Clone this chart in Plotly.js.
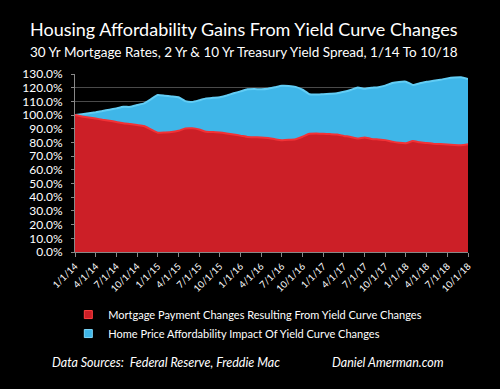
<!DOCTYPE html>
<html>
<head>
<meta charset="utf-8">
<script src="https://cdn.plot.ly/plotly-3.0.1.min.js"></script>
<style>
html,body{margin:0;padding:0;background:#000;}
#chart{width:500px;height:389px;}
</style>
</head>
<body>
<div id="chart"></div>
<script>
// Monthly observations, 1/1/14 .. 10/1/18
var months = [
  "1/1/14","2/1/14","3/1/14","4/1/14","5/1/14","6/1/14","7/1/14","8/1/14","9/1/14","10/1/14","11/1/14","12/1/14",
  "1/1/15","2/1/15","3/1/15","4/1/15","5/1/15","6/1/15","7/1/15","8/1/15","9/1/15","10/1/15","11/1/15","12/1/15",
  "1/1/16","2/1/16","3/1/16","4/1/16","5/1/16","6/1/16","7/1/16","8/1/16","9/1/16","10/1/16","11/1/16","12/1/16",
  "1/1/17","2/1/17","3/1/17","4/1/17","5/1/17","6/1/17","7/1/17","8/1/17","9/1/17","10/1/17","11/1/17","12/1/17",
  "1/1/18","2/1/18","3/1/18","4/1/18","5/1/18","6/1/18","7/1/18","8/1/18","9/1/18","10/1/18"
];
var mortgagePayment = [
  100,99,98.2,97.5,96.6,95.9,95,94,93.4,92.7,92,89.5,
  87.1,87.3,87.6,88.5,90.2,90.3,89.5,87.8,87.6,87.3,86.6,85.8,
  85,84,83.8,83.7,83.2,82.4,81.7,81.9,82.4,84.2,86.3,86.6,
  86.3,86.1,85.8,84.8,84,82.9,83.7,82.6,82.2,81.7,80.6,79.8,
  79.5,81,80.1,79.6,79.1,78.8,78.5,78.2,78,78.7
];
var homePrice = [
  100,100.7,101.3,102,103,103.9,104.9,106,106,107.3,108.5,111.5,
  114.6,114.1,113.6,113,110.2,109.6,110.8,112.2,112.6,113,114.3,115.9,
  117.3,118.8,119,118.8,119.2,120.3,121.4,121.3,120.6,118.5,115.2,115,
  115.3,115.6,115.9,117,118.3,120.2,119.2,119.9,120.4,121.5,123.4,124.2,
  124.4,122,123.2,124.3,125,125.8,126.8,127.4,127.6,126.3
];
var tickLabels = ["1/1/14","4/1/14","7/1/14","10/1/14","1/1/15","4/1/15","7/1/15","10/1/15",
  "1/1/16","4/1/16","7/1/16","10/1/16","1/1/17","4/1/17","7/1/17","10/1/17",
  "1/1/18","4/1/18","7/1/18","10/1/18"];
var yTicks = [0,10,20,30,40,50,60,70,80,90,100,110,120,130];

var seriesNames = ["Mortgage Payment Changes Resulting From Yield Curve Changes",
                   "Home Price Affordability Impact Of Yield Curve Changes"];
var redFill = "#cc1f27", blueFill = "#3fb6e8";

var traces = [
  {
    x: months, y: homePrice, type: "scatter", mode: "lines",
    fill: "tozeroy", fillcolor: blueFill,
    line: {color: "#62cdf5", width: 2, shape: "spline", smoothing: 0.4},
    name: seriesNames[1], showlegend: false
  },
  {
    x: months, y: mortgagePayment, type: "scatter", mode: "lines",
    fill: "tozeroy", fillcolor: redFill,
    line: {color: "#f23236", width: 2, shape: "spline", smoothing: 0.4},
    name: seriesNames[0], showlegend: false
  },
  // legend entries (square keys, no data drawn)
  {x: [null], y: [null], type: "scatter", mode: "markers", name: seriesNames[0],
   marker: {symbol: "square", size: 8, color: redFill, line: {color: "#ff4040", width: 1}}, legendrank: 1},
  {x: [null], y: [null], type: "scatter", mode: "markers", name: seriesNames[1],
   marker: {symbol: "square", size: 8, color: blueFill, line: {color: "#7fd8fa", width: 1}}, legendrank: 2}
];

var layout = {
  width: 500, height: 389,
  paper_bgcolor: "#000", plot_bgcolor: "#000",
  margin: {l: 75, r: 32, t: 74, b: 137},
  font: {family: "Lato, 'Open Sans', sans-serif", color: "#ffffff"},
  showlegend: true,
  legend: {
    x: -0.017, y: -0.27, xanchor: "left", yanchor: "top",
    orientation: "v", bgcolor: "rgba(0,0,0,0)",
    font: {size: 11, color: "#fff", family: "Lato, sans-serif"},
    tracegroupgap: 4, itemwidth: 30
  },
  xaxis: {
    type: "category",
    range: [0, months.length - 1],
    tickvals: tickLabels, ticktext: tickLabels,
    tickangle: -45,
    tickfont: {size: 9.5, color: "#fff", family: "Lato, sans-serif"},
    ticks: "outside", ticklen: 4, tickcolor: "#888",
    showline: true, linecolor: "#888", linewidth: 1,
    showgrid: false, zeroline: false, fixedrange: true
  },
  yaxis: {
    range: [0, 130],
    tickvals: yTicks,
    ticktext: yTicks.map(function(v){return v.toFixed(1) + "%";}),
    tickfont: {size: 12, color: "#fff", family: "Lato, sans-serif"},
    ticklabelstandoff: 6,
    showgrid: true, gridcolor: "#4a4a4a", gridwidth: 1,
    ticks: "outside", ticklen: 3, tickcolor: "#888",
    showline: true, linecolor: "#888", linewidth: 1,
    zeroline: false, fixedrange: true
  },
  annotations: [
    {text: "Housing Affordability Gains From Yield Curve Changes", xref: "paper", yref: "paper",
     x: 0.43, y: 1.253, xanchor: "center", yanchor: "middle", showarrow: false,
     font: {size: 18, color: "#fff", family: "Lato, sans-serif"}},
    {text: "30 Yr Mortgage Rates, 2 Yr & 10 Yr Treasury Yield Spread, 1/14 To 10/18", xref: "paper", yref: "paper",
     x: 0.43, y: 1.124, xanchor: "center", yanchor: "middle", showarrow: false,
     font: {size: 13.5, color: "#fff", family: "Lato, sans-serif"}},
    {text: "<i>Data Sources:  Federal Reserve, Freddie Mac</i>", xref: "paper", yref: "paper",
     x: -0.063, y: 0, yshift: -110, xanchor: "left", yanchor: "middle", showarrow: false,
     font: {size: 12.5, color: "#fff", family: "Lato, sans-serif"}},
    {text: "<i>Daniel Amerman.com</i>", xref: "paper", yref: "paper",
     x: 0.65, y: 0, yshift: -110, xanchor: "left", yanchor: "middle", showarrow: false,
     font: {size: 12.5, color: "#fff", family: "Lato, sans-serif"}}
  ]
};

Plotly.newPlot("chart", traces, layout, {staticPlot: true, displayModeBar: false});
</script>
</body>
</html>
